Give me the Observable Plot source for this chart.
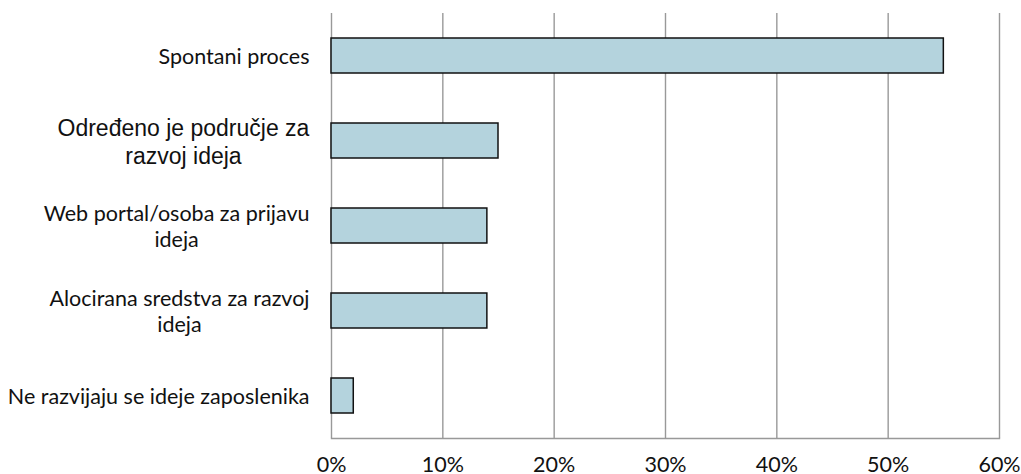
<!DOCTYPE html>
<html>
<head>
<meta charset="utf-8">
<script src="https://cdn.jsdelivr.net/npm/d3@7"></script>
<script src="https://cdn.jsdelivr.net/npm/@observablehq/plot@0.6"></script>
<style>
  html, body { margin: 0; padding: 0; background: #fff; }
</style>
</head>
<body>
<div id="chart"></div>
<script>
// Kako se razvijaju ideje zaposlenika (udio odgovora)
const categories = [
  "Spontani proces",
  "Određeno je područje za\nrazvoj ideja",
  "Web portal/osoba za prijavu\nideja",
  "Alocirana sredstva za razvoj\nideja",
  "Ne razvijaju se ideje zaposlenika"
];
const shares = [0.55, 0.15, 0.14, 0.14, 0.02];
const xTicks = [0, 0.1, 0.2, 0.3, 0.4, 0.5, 0.6];

const rows = categories.map((category, i) => ({category, share: shares[i]}));

const chart = Plot.plot({
  width: 1021,
  height: 474,
  marginLeft: 331,
  marginRight: 22,
  marginTop: 13,
  marginBottom: 36,
  style: {fontFamily: "Lato", fontSize: "21.5px", color: "#111", background: "#fff"},
  x: {domain: [0, 0.6], ticks: xTicks, tickFormat: d3.format(".0%"), label: null},
  y: {domain: categories, paddingInner: 0.59, paddingOuter: 0.295, label: null},
  marks: [
    Plot.gridX(xTicks, {stroke: "#999", strokeOpacity: 1, strokeWidth: 1.4}),
    Plot.frame({anchor: "bottom", stroke: "#999", strokeWidth: 1.4}),
    Plot.barX(rows, {x: "share", y: "category", fill: "#b4d3dd", stroke: "#111", strokeWidth: 1.5}),
    Plot.axisX({ticks: xTicks, tickSize: 0, tickPadding: 18, tickFormat: d3.format(".0%"), label: null}),
    Plot.axisY({tickSize: 0, tickPadding: 22, lineHeight: 1.2, label: null})
  ]
});

document.getElementById("chart").append(chart);

// Centre each category label block; the second label uses a different face
const yLabels = d3.select(chart).selectAll("[aria-label='y-axis tick label'] text");
yLabels.each(function(d, i) {
  if (i === 1) {
    this.style.fontFamily = "'Liberation Sans', Arial, sans-serif";
    this.style.fontSize = "23px";
  }
  const w = this.getBBox().width;
  this.setAttribute("text-anchor", "middle");
  const t = this.getAttribute("transform") || "";
  this.setAttribute("transform", t + ` translate(${-w / 2},0)`);
});
</script>
</body>
</html>
